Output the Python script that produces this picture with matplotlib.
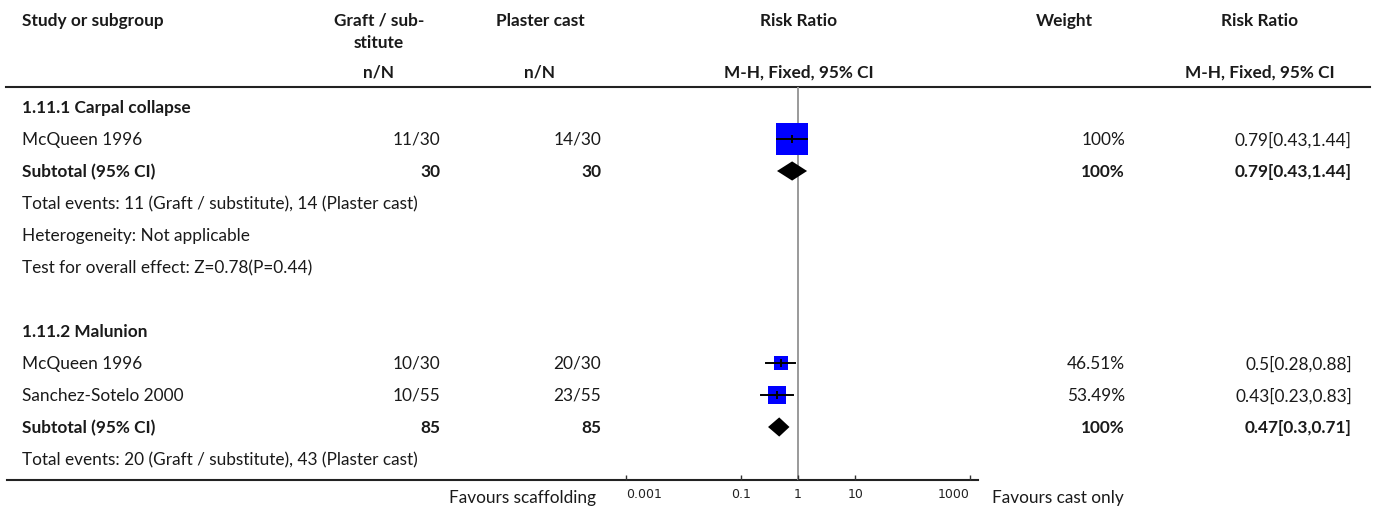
import matplotlib
matplotlib.use("Agg")
import matplotlib.pyplot as plt
import numpy as np

plt.rcParams['font.family'] = ['Lato', 'DejaVu Sans']

# study level data
group = [0, 1, 1]
studies = ["McQueen 1996", "McQueen 1996", "Sanchez-Sotelo 2000"]
graft_events = [11, 10, 10]
graft_n = [30, 30, 55]
cast_events = [14, 20, 23]
cast_n = [30, 30, 55]
rr = [0.79, 0.5, 0.43]
rr_lo = [0.43, 0.28, 0.23]
rr_hi = [1.44, 0.88, 0.83]
weight = [100, 46.51, 53.49]

# subgroup totals
group_titles = ["1.11.1 Carpal collapse", "1.11.2 Malunion"]
sub_rr = [0.79, 0.47]
sub_lo = [0.43, 0.3]
sub_hi = [1.44, 0.71]
sub_weight = [100, 100]
heterogeneity = ["Heterogeneity: Not applicable", None]
overall_effect = ["Test for overall effect: Z=0.78(P=0.44)", None]

tick_values = [0.001, 0.1, 1, 10, 1000]
tick_labels = ["0.001", "0.1", "1", "10", "1000"]

W, H = 1375, 510
FS = 12.4
TXT = '#1a1a1a'

# pixel layout
ROW0, ROW_H = 108, 32
TOP_RULE, AXIS_Y = 88, 481
PLOT_L, PLOT_R = 600, 978
ONE_PX, DECADE_PX = 798, 57.3

X_STUDY = 22
X_GRAFT, C_GRAFT = 440, 379
X_CAST, C_CAST = 601, 540
C_PLOT = 799
X_WEIGHT, C_WEIGHT = 1125, 1064
X_RR, C_RR = 1352, 1260

fig = plt.figure(figsize=(W / 100, H / 100), dpi=100)
tab = fig.add_axes([0, 0, 1, 1])
tab.set_xlim(0, W)
tab.set_ylim(H, 0)
tab.axis('off')

fa = fig.add_axes([PLOT_L / W, (H - AXIS_Y) / H, (PLOT_R - PLOT_L) / W, (AXIS_Y - TOP_RULE) / H])
fa.set_xscale('log')
fa.set_xlim(10 ** ((PLOT_L - ONE_PX) / DECADE_PX), 10 ** ((PLOT_R - ONE_PX) / DECADE_PX))
fa.set_ylim((AXIS_Y - ROW0) / ROW_H, (TOP_RULE - ROW0) / ROW_H)
fa.patch.set_alpha(0)
for s in fa.spines.values():
    s.set_visible(False)
fa.set_yticks([])
fa.minorticks_off()
fa.set_xticks(tick_values)
fa.set_xticklabels(tick_labels)
fa.tick_params(axis='x', direction='in', length=3.6, width=1, color='#333', pad=5,
               labelsize=9, labelcolor='#222')
for lab in fa.get_xticklabels():
    lab.set_family('DejaVu Sans')
labs = fa.get_xticklabels()
labs[0].set_ha('left')
labs[-1].set_ha('right')
fa.axvline(1, color='#9a9a9a', lw=1.4, zorder=1)


def row_y(i):
    return ROW0 + ROW_H * i


def put(x, i, s, ha='left', bold=False):
    tab.text(x, row_y(i), s, ha=ha, va='center', fontsize=FS, color=TXT,
             fontweight='bold' if bold else 'normal')


# header
hdr = dict(fontsize=FS, color=TXT, fontweight='bold', va='center')
tab.text(X_STUDY, 21, "Study or subgroup", ha='left', **hdr)
tab.text(C_GRAFT, 21, "Graft / sub-", ha='center', **hdr)
tab.text(C_GRAFT, 43, "stitute", ha='center', **hdr)
tab.text(C_CAST, 21, "Plaster cast", ha='center', **hdr)
tab.text(C_PLOT, 21, "Risk Ratio", ha='center', **hdr)
tab.text(C_WEIGHT, 21, "Weight", ha='center', **hdr)
tab.text(C_RR, 21, "Risk Ratio", ha='center', **hdr)
tab.text(C_GRAFT, 73, "n/N", ha='center', **hdr)
tab.text(C_CAST, 73, "n/N", ha='center', **hdr)
tab.text(C_PLOT, 73, "M-H, Fixed, 95% CI", ha='center', **hdr)
tab.text(C_RR, 73, "M-H, Fixed, 95% CI", ha='center', **hdr)
tab.plot([6, 1370], [TOP_RULE, TOP_RULE], color='#222', lw=1.5)
tab.plot([7, PLOT_R], [AXIS_Y, AXIS_Y], color='#222', lw=1.5)

row = 0
for g, title in enumerate(group_titles):
    put(X_STUDY, row, title, bold=True)
    row += 1
    idx = [k for k in range(len(studies)) if group[k] == g]
    for k in idx:
        put(X_STUDY, row, studies[k])
        put(X_GRAFT, row, f"{graft_events[k]}/{graft_n[k]}", ha='right')
        put(X_CAST, row, f"{cast_events[k]}/{cast_n[k]}", ha='right')
        put(X_WEIGHT, row, f"{weight[k]:g}%", ha='right')
        put(X_RR, row, f"{rr[k]:g}[{rr_lo[k]:g},{rr_hi[k]:g}]", ha='right')
        side = 0.72 * 32 * weight[k] / 100
        fa.scatter([rr[k]], [row], marker='s', s=side ** 2, color='#0000ff',
                   linewidths=0, zorder=2)
        fa.plot([rr_lo[k], rr_hi[k]], [row, row], color='black', lw=1.4, zorder=3)
        fa.plot([rr[k]], [row], marker='|', ms=6, mew=1.4, color='black', zorder=3)
        row += 1
    # subtotal
    put(X_STUDY, row, "Subtotal (95% CI)", bold=True)
    put(X_GRAFT, row, f"{sum(graft_n[k] for k in idx)}", ha='right', bold=True)
    put(X_CAST, row, f"{sum(cast_n[k] for k in idx)}", ha='right', bold=True)
    put(X_WEIGHT, row, f"{sub_weight[g]:g}%", ha='right', bold=True)
    put(X_RR, row, f"{sub_rr[g]:g}[{sub_lo[g]:g},{sub_hi[g]:g}]", ha='right', bold=True)
    h = 0.3
    fa.fill([sub_lo[g], sub_rr[g], sub_hi[g], sub_rr[g]], [row, row - h, row, row + h],
            color='black', lw=0, zorder=3)
    row += 1
    ge = sum(graft_events[k] for k in idx)
    ce = sum(cast_events[k] for k in idx)
    put(X_STUDY, row, f"Total events: {ge} (Graft / substitute), {ce} (Plaster cast)")
    row += 1
    for line in (heterogeneity[g], overall_effect[g]):
        if line:
            put(X_STUDY, row, line)
            row += 1
    row += 1

tab.text(596, 498, "Favours scaffolding", ha='right', va='center', fontsize=FS, color=TXT)
tab.text(992, 498, "Favours cast only", ha='left', va='center', fontsize=FS, color=TXT)

fig.savefig("out.png", dpi=100)
